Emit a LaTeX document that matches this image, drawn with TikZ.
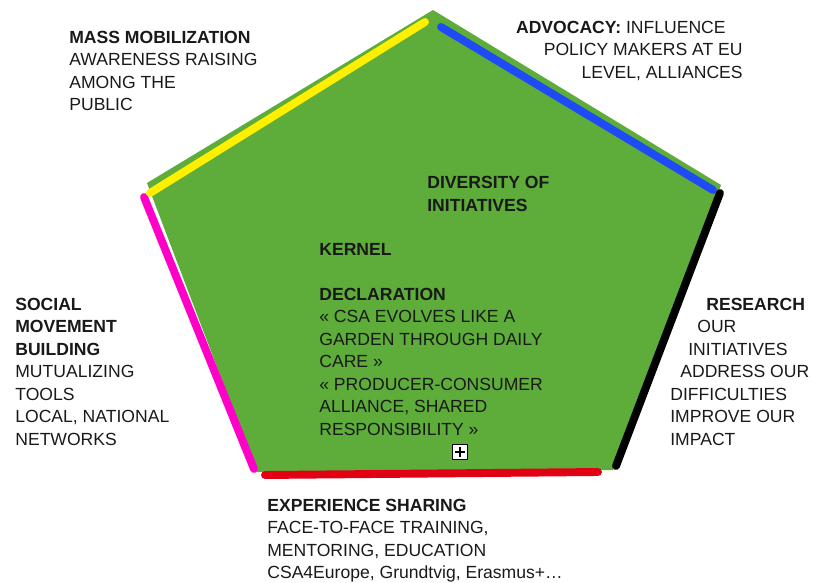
\documentclass[tikz,border=0pt]{standalone}
\usepackage{fontspec}
\setmainfont{Liberation Sans}
\definecolor{leaf}{RGB}{94,172,58}
\definecolor{ink}{RGB}{25,25,25}
\definecolor{brushyellow}{RGB}{255,240,0}
\definecolor{brushblue}{RGB}{30,75,245}
\definecolor{brushpink}{RGB}{255,0,200}
\definecolor{brushred}{RGB}{225,0,20}
\begin{document}
\begin{tikzpicture}[
  x=0.02cm, y=-0.02cm,
  blurb/.style={inner sep=0pt,align=left,anchor=base west,text=ink,font=\fontsize{10}{12.8}\selectfont},
  brush/.style={line width=4.5pt,line cap=round},
  pluslink/.style={line width=0.8pt,shorten <=0.06cm,shorten >=0.06cm}
]
  \useasboundingbox (0,0) rectangle (814,582);

  % pentagon
  \coordinate (top) at (433,10);
  \coordinate (rgt) at (721,185);
  \coordinate (br) at (613,470);
  \coordinate (bl) at (257,472);
  \coordinate (lft) at (147,183);
  \fill[leaf] (top) -- (rgt) -- (br) -- (bl) -- (lft) -- cycle;

  % coloured edges
  \draw[brush,brushpink] ([shift={(-3,14)}]lft) -- ([shift={(-3,-3)}]bl);
  \draw[brush,brushyellow] ([shift={(3,10)}]lft) -- ([shift={(-8,12)}]top);
  \draw[brush,brushblue] ([shift={(8,17)}]top) -- ([shift={(-8,5)}]rgt);
  \draw[brush,black] ([shift={(-1,8)}]rgt) -- ([shift={(3,-4)}]br);
  \draw[brush,brushred] ([shift={(8,3)}]bl) -- ([shift={(-15,2)}]br);

  % texts (anchored at the baseline of their last line)
  \node[blurb] (mass) at (69,110.5) {\textbf{MASS MOBILIZATION}\\AWARENESS RAISING\\AMONG THE\\PUBLIC};
  \node[blurb,align=right,anchor=base east] (advocacy) at (743,78) {\textbf{ADVOCACY:} INFLUENCE\hspace*{0.34cm}\\POLICY MAKERS AT EU\\LEVEL, ALLIANCES};
  \node[blurb] (diversity) at (427,211) {\textbf{DIVERSITY OF}\\\textbf{INITIATIVES}};
  \node[blurb] (kernel) at (319,435) {\textbf{KERNEL}\\[12.8pt]\textbf{DECLARATION}\\« CSA EVOLVES LIKE A\\GARDEN THROUGH DAILY\\CARE »\\« PRODUCER-CONSUMER\\ALLIANCE, SHARED\\RESPONSIBILITY »};
  \node[blurb] (social) at (15,445) {\textbf{SOCIAL}\\\textbf{MOVEMENT}\\\textbf{BUILDING}\\MUTUALIZING\\TOOLS\\LOCAL, NATIONAL\\NETWORKS};
  \node[blurb] (research) at (670,445) {\hspace*{0.72cm}\textbf{RESEARCH}\\\hspace*{0.54cm}OUR\\\hspace*{0.36cm}INITIATIVES\\\hspace*{0.2cm}ADDRESS OUR\\DIFFICULTIES\\IMPROVE OUR\\IMPACT};
  \node[blurb] (sharing) at (267,578.5) {\textbf{EXPERIENCE SHARING}\\FACE-TO-FACE TRAINING,\\MENTORING, EDUCATION\\CSA4Europe, Grundtvig, Erasmus+…};

  % expand box
  \node[draw,fill=white,line width=0.8pt,inner sep=0pt,minimum size=0.3cm] (plus) at (460,452) {};
  \draw[pluslink] (plus.north) -- (plus.south);
  \draw[pluslink] (plus.west) -- (plus.east);
\end{tikzpicture}
\end{document}
